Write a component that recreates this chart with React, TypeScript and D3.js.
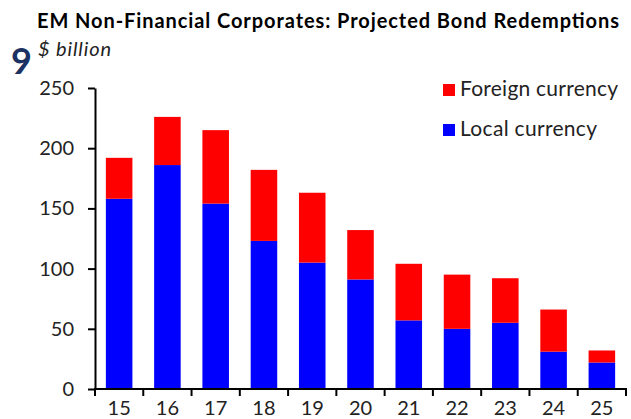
import React, { useEffect, useRef } from "react";
import * as d3 from "d3";

// data ($ billion)
const years = ["15", "16", "17", "18", "19", "20", "21", "22", "23", "24", "25"];
const localCurrency = [158, 186, 154, 123, 105, 91, 57, 50, 55, 31, 22];
const foreignCurrency = [34, 40, 61, 59, 58, 41, 47, 45, 37, 35, 10];
const yTicks = [0, 50, 100, 150, 200, 250];

const WIDTH = 631;
const HEIGHT = 419;
const FONT = "Lato, 'Open Sans', sans-serif";

const App: React.FC = () => {
  const svgRef = useRef<SVGSVGElement | null>(null);

  useEffect(() => {
    const svg = d3.select(svgRef.current);
    svg.selectAll("*").remove();

    const left = 95;
    const right = 626;
    const top = 88;
    const bottom = 389;

    const rows = years.map((y, i) => ({
      year: y,
      local: localCurrency[i],
      foreign: foreignCurrency[i],
    }));

    const x = d3
      .scaleBand()
      .domain(years)
      .range([left, right])
      .paddingInner(0.45)
      .paddingOuter(0.225);

    const y = d3.scaleLinear().domain([0, 250]).range([bottom, top]);

    const color: Record<string, string> = { local: "#0000ff", foreign: "#ff0000" };

    const stacked = d3.stack<any>().keys(["local", "foreign"])(rows);

    // bars
    svg
      .append("g")
      .selectAll("g")
      .data(stacked)
      .enter()
      .append("g")
      .attr("fill", (s) => color[s.key])
      .selectAll("rect")
      .data((s) => s)
      .enter()
      .append("rect")
      .attr("x", (d: any) => x(d.data.year)!)
      .attr("width", x.bandwidth())
      .attr("y", (d) => y(d[1]))
      .attr("height", (d) => y(d[0]) - y(d[1]));

    // y axis
    const yAxis = svg
      .append("g")
      .attr("transform", `translate(${left},0)`)
      .call(
        d3.axisLeft(y).tickValues(yTicks).tickSize(7).tickSizeOuter(0).tickPadding(14)
      );
    yAxis.select(".domain").attr("stroke", "#000").attr("stroke-width", 2);
    yAxis.selectAll(".tick line").attr("stroke", "#000").attr("stroke-width", 2);
    yAxis
      .selectAll(".tick text")
      .attr("fill", "#222")
      .style("font-family", FONT)
      .style("font-size", "20px");

    // x axis: line plus ticks on band boundaries
    const xAxis = svg.append("g");
    xAxis
      .append("line")
      .attr("x1", left - 1)
      .attr("x2", right + 1)
      .attr("y1", bottom)
      .attr("y2", bottom)
      .attr("stroke", "#000")
      .attr("stroke-width", 2);

    const half = (x.step() - x.bandwidth()) / 2;
    const bounds = years.map((yr) => x(yr)! - half).concat([right]);
    xAxis
      .selectAll(".xt")
      .data(bounds)
      .enter()
      .append("line")
      .attr("x1", (d) => d)
      .attr("x2", (d) => d)
      .attr("y1", bottom)
      .attr("y2", bottom + 7)
      .attr("stroke", "#000")
      .attr("stroke-width", 2);

    xAxis
      .selectAll(".xl")
      .data(years)
      .enter()
      .append("text")
      .attr("x", (d) => x(d)! + x.bandwidth() / 2)
      .attr("y", 415)
      .attr("text-anchor", "middle")
      .attr("fill", "#222")
      .style("font-family", FONT)
      .style("font-size", "20px")
      .text((d) => d);

    // titles
    svg
      .append("text")
      .attr("x", 37)
      .attr("y", 28)
      .attr("fill", "#000")
      .attr("textLength", 582)
      .attr("lengthAdjust", "spacing")
      .style("font-family", FONT)
      .style("font-size", "20px")
      .style("font-weight", "bold")
      .text("EM Non-Financial Corporates: Projected Bond Redemptions");

    svg
      .append("text")
      .attr("x", 11)
      .attr("y", 74)
      .attr("fill", "#1b3263")
      .style("font-family", FONT)
      .style("font-size", "36px")
      .style("font-weight", "bold")
      .text("9");

    svg
      .append("text")
      .attr("x", 38)
      .attr("y", 56)
      .attr("fill", "#222")
      .attr("textLength", 73)
      .attr("lengthAdjust", "spacing")
      .style("font-family", FONT)
      .style("font-size", "20px")
      .style("font-style", "italic")
      .text("$ billion");

    // legend
    const legendItems = [
      { key: "foreign", label: "Foreign currency", w: 158 },
      { key: "local", label: "Local currency", w: 137 },
    ];
    const legend = svg.append("g").attr("transform", "translate(443,84)");
    legend
      .selectAll("rect")
      .data(legendItems)
      .enter()
      .append("rect")
      .attr("x", 0)
      .attr("y", (d, i) => i * 40)
      .attr("width", 12)
      .attr("height", 12)
      .attr("fill", (d) => color[d.key]);
    legend
      .selectAll("text")
      .data(legendItems)
      .enter()
      .append("text")
      .attr("x", 17)
      .attr("y", (d, i) => i * 40 + 12)
      .attr("fill", "#222")
      .attr("textLength", (d) => d.w)
      .attr("lengthAdjust", "spacing")
      .style("font-family", FONT)
      .style("font-size", "21px")
      .text((d) => d.label);
  }, []);

  return (
    <svg
      ref={svgRef}
      width={WIDTH}
      height={HEIGHT}
      style={{ position: "absolute", left: 0, top: 0, background: "#fff" }}
    />
  );
};

export default App;
